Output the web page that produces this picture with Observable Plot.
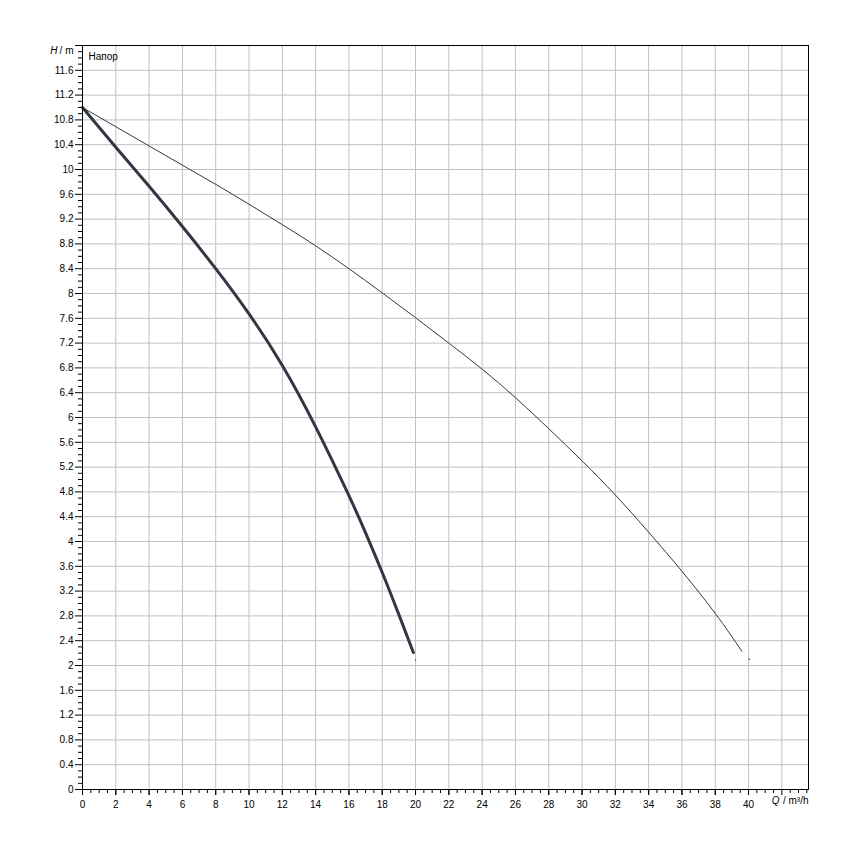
<!DOCTYPE html>
<html>
<head>
<meta charset="utf-8">
<script src="https://cdn.jsdelivr.net/npm/d3@7"></script>
<script src="https://cdn.jsdelivr.net/npm/@observablehq/plot@0.6"></script>
<style>
  html, body { margin: 0; padding: 0; background: #fff; }
  #chart svg { display: block; }
</style>
</head>
<body>
<div id="chart"></div>
<script>
// Flow rate Q (m³/h) and head H (m) for the two pump curves
const thickQ = [0, 2, 4, 6, 8, 10, 12, 14, 16, 17, 18, 19, 19.87];
const thickH = [11.0, 10.36, 9.73, 9.08, 8.40, 7.67, 6.84, 5.85, 4.74, 4.14, 3.50, 2.82, 2.21];

const thinQ = [0, 2, 4, 6, 8, 10, 12, 14, 16, 18, 20, 22, 24, 26, 28, 30, 32, 34, 36, 38, 39.6];
const thinH = [11.0, 10.69, 10.38, 10.07, 9.76, 9.44, 9.11, 8.77, 8.40, 8.01, 7.61, 7.20, 6.78, 6.32, 5.82, 5.30, 4.75, 4.15, 3.52, 2.84, 2.23];

// small end markers
const endQ = [20.0, 40.05];
const endH = [2.09, 2.10];

// axis ticks
const xMajor = [0, 2, 4, 6, 8, 10, 12, 14, 16, 18, 20, 22, 24, 26, 28, 30, 32, 34, 36, 38, 40, 42];
const xLabelled = [0, 2, 4, 6, 8, 10, 12, 14, 16, 18, 20, 22, 24, 26, 28, 30, 32, 34, 36, 38, 40];
const yMajor = [0, 0.4, 0.8, 1.2, 1.6, 2, 2.4, 2.8, 3.2, 3.6, 4, 4.4, 4.8, 5.2, 5.6, 6, 6.4, 6.8, 7.2, 7.6, 8, 8.4, 8.8, 9.2, 9.6, 10, 10.4, 10.8, 11.2, 11.6];
const yTop = [12];
const xMinorStep = 0.5;
const yMinorStep = 0.1;

const xMax = 43.6, yMax = 12;

const xMinor = d3.range(0, xMax + 1e-9, xMinorStep).filter(v => Math.abs(v / 2 - Math.round(v / 2)) > 1e-6);
const yMinor = d3.range(0, yMax + 1e-9, yMinorStep).map(v => Math.round(v * 10) / 10)
  .filter(v => Math.abs(v / 0.4 - Math.round(v / 0.4)) > 1e-6);

const thick = thickQ.map((q, i) => ({Q: q, H: thickH[i]}));
const thin = thinQ.map((q, i) => ({Q: q, H: thinH[i]}));
const ends = endQ.map((q, i) => ({Q: q, H: endH[i]}));

const fmt = d => String(Math.round(d * 10) / 10);
const lineColor = "#303844";
const font = "Liberation Sans, Arial, sans-serif";

const chart = Plot.plot({
  width: 850,
  height: 850,
  marginLeft: 82,
  marginRight: 42,
  marginTop: 45,
  marginBottom: 61,
  style: {fontFamily: font, fontSize: "10px", color: "#000", background: "#fff"},
  x: {domain: [0, xMax]},
  y: {domain: [0, yMax]},
  marks: [
    Plot.gridX(xMajor.filter(v => v > 0), {stroke: "#c0c0c0", strokeOpacity: 1}),
    Plot.gridY(yMajor.filter(v => v > 0), {stroke: "#c0c0c0", strokeOpacity: 1}),
    Plot.axisX(xMajor, {tickSize: 6, tickFormat: () => "", label: null}),
    Plot.axisX(xLabelled, {tickSize: 6, tickPadding: 5, tickFormat: fmt, label: null, fill: "#000"}),
    Plot.axisX(xMinor, {tickSize: 4, tickFormat: () => "", label: null}),
    Plot.axisY(yMajor, {tickSize: 7, tickPadding: 2, tickFormat: fmt, label: null, fill: "#000"}),
    Plot.axisY(yTop, {tickSize: 7, tickFormat: () => "", label: null}),
    Plot.axisY(yMinor, {tickSize: 4, tickFormat: () => "", label: null}),
    Plot.line(thin, {x: "Q", y: "H", stroke: lineColor, strokeWidth: 1, curve: "natural"}),
    Plot.line(thick, {x: "Q", y: "H", stroke: lineColor, strokeWidth: 3, curve: "natural"}),
    Plot.dot(ends, {x: "Q", y: "H", r: 0.7, fill: lineColor, stroke: null}),
    Plot.frame({stroke: "#000", strokeWidth: 1}),
    Plot.text(["Напор"], {frameAnchor: "top-left", dx: 6, dy: 7, textAnchor: "start", fill: "#000"}),
    Plot.text([" / m"], {frameAnchor: "top-left", dx: -9, dy: 1, textAnchor: "end", fill: "#000"}),
    Plot.text(["H"], {frameAnchor: "top-left", dx: -25, dy: 1, textAnchor: "end", fill: "#000", fontStyle: "italic"}),
    Plot.text([" / m³/h"], {frameAnchor: "bottom-right", dx: 0, dy: 14, textAnchor: "end", fill: "#000"}),
    Plot.text(["Q"], {frameAnchor: "bottom-right", dx: -29, dy: 14, textAnchor: "end", fill: "#000", fontStyle: "italic"})
  ]
});

document.getElementById("chart").append(chart);
</script>
</body>
</html>
